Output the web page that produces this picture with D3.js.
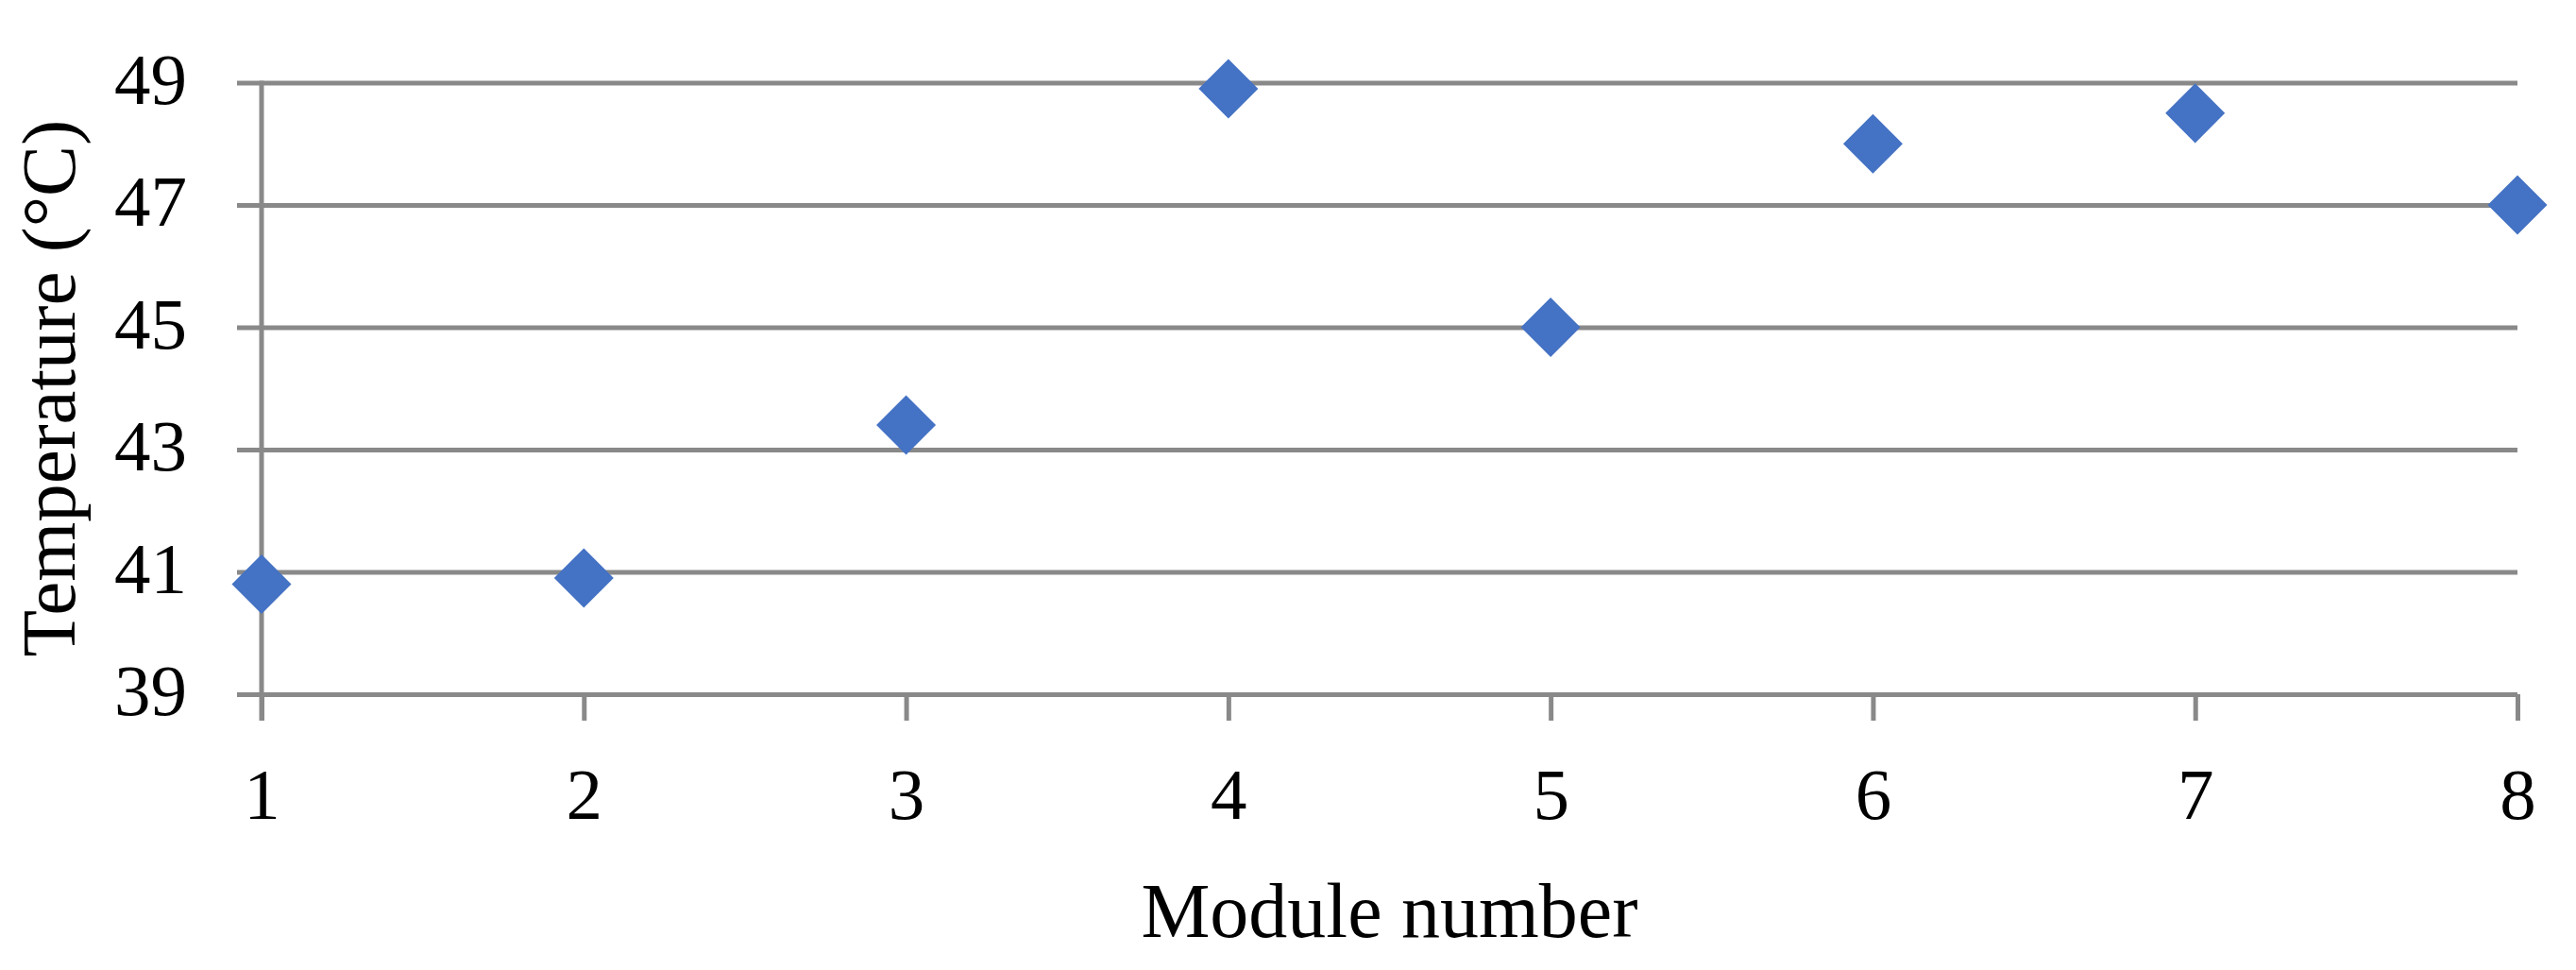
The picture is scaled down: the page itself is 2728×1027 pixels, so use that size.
<!DOCTYPE html>
<html>
<head>
<meta charset="utf-8">
<script src="https://cdn.jsdelivr.net/npm/d3@7"></script>
<style>
  html, body { margin: 0; padding: 0; background: #ffffff; }
  svg { display: block; }
  text { font-family: "Liberation Serif", "Times New Roman", serif; fill: #000; }
</style>
</head>
<body>
<script>
// ---- data ----
const modules = [1, 2, 3, 4, 5, 6, 7, 8];
const temperatures = [40.8, 40.9, 43.4, 48.9, 45.0, 48.0, 48.5, 47.0];
const xTicks = [1, 2, 3, 4, 5, 6, 7, 8];
const yTicks = [39, 41, 43, 45, 47, 49];
const xTitle = "Module number";
const yTitle = "Temperature (°C)";

(function () {
// ---- layout ----
const W = 2728, H = 1027;
const plotLeft = 277, plotRight = 2666, plotTop = 87.5, plotBottom = 735;
const gridColor = "#898989";
const markerColor = "#4472C4";
const lineW = 5;

const svg = d3.select("body").append("svg")
  .attr("width", W).attr("height", H)
  .attr("viewBox", `0 0 ${W} ${H}`);

const x = d3.scaleLinear().domain([1, 8]).range([plotLeft, plotRight]);
const y = d3.scaleLinear().domain([39, 49]).range([plotBottom, plotTop]);

// horizontal gridlines (with left tick extension)
const yAxis = d3.axisLeft(y).tickValues(yTicks).tickSize(0).tickFormat(d3.format("d")).tickPadding(79);
const gY = svg.append("g").attr("transform", `translate(${plotLeft},0)`).call(yAxis);
gY.select(".domain").remove();
gY.selectAll(".tick text")
  .attr("font-size", 77)
  .attr("dy", "0.28em")
  .style("font-family", "'Liberation Serif', serif");
gY.selectAll(".tick").append("line")
  .attr("x1", -26).attr("x2", plotRight - plotLeft)
  .attr("stroke", gridColor).attr("stroke-width", lineW);

// bottom ticks
const xAxis = d3.axisBottom(x).tickValues(xTicks).tickSize(28).tickFormat(d3.format("d")).tickPadding(0);
const gX = svg.append("g").attr("transform", `translate(0,${plotBottom})`).call(xAxis);
gX.select(".domain").remove();
gX.selectAll(".tick line").attr("stroke", gridColor).attr("stroke-width", lineW);
gX.selectAll(".tick text")
  .attr("font-size", 77)
  .attr("y", 132)
  .attr("dy", 0)
  .style("font-family", "'Liberation Serif', serif");

// vertical axis line
svg.append("line")
  .attr("x1", x(1)).attr("x2", x(1))
  .attr("y1", y(49) - 2).attr("y2", plotBottom + 28)
  .attr("stroke", gridColor).attr("stroke-width", lineW);

// axis titles
svg.append("text")
  .attr("x", (plotLeft + plotRight) / 2).attr("y", 992)
  .attr("text-anchor", "middle")
  .attr("font-size", 82)
  .text(xTitle);

svg.append("text")
  .attr("transform", `translate(79,${(plotTop + plotBottom) / 2}) rotate(-90)`)
  .attr("text-anchor", "middle")
  .attr("font-size", 81)
  .text(yTitle);

// markers
const diamond = d3.symbol().type(d3.symbolSquare).size(1985);
svg.append("g").selectAll("path")
  .data(modules.map((m, i) => ({ m, t: temperatures[i] })))
  .join("path")
  .attr("d", diamond)
  .attr("transform", d => `translate(${x(d.m)},${y(d.t)}) rotate(45)`)
  .attr("fill", markerColor);
})();
</script>
</body>
</html>
